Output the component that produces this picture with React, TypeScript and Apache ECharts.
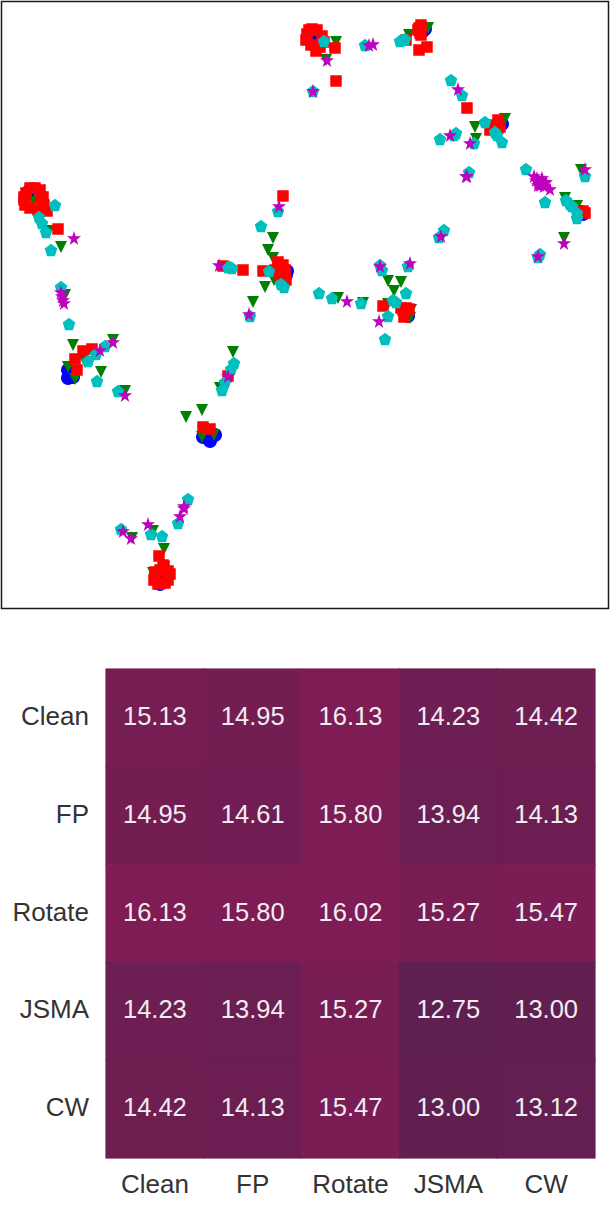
import React, { useEffect, useRef } from "react";
import * as echarts from "echarts";

const blueClean: number[][] = [[29,191],[287,271],[286,275],[283,270],[311,37],[316,40],[425,29],[423,31],[420,30],[502,124],[500,125],[583,214],[581,212],[408,316],[408,314],[406,312],[68,370],[68,378],[70,375],[73,377],[69,371],[203,437],[210,441],[215,435],[207,437],[168,573],[161,583],[160,584]];
const greenFP: number[][] = [[34,202],[39,212],[49,231],[61,247],[65,295],[273,238],[268,250],[273,258],[265,287],[253,302],[274,280],[336,42],[326,60],[409,35],[428,28],[475,127],[505,119],[476,139],[565,198],[577,206],[581,170],[564,238],[388,281],[401,282],[394,291],[411,310],[410,318],[388,304],[338,298],[363,303],[73,345],[68,367],[75,379],[85,362],[113,340],[101,372],[125,391],[233,352],[220,388],[202,410],[186,417],[202,437],[214,435],[153,531],[132,538],[164,549],[153,573]];
const redRotate: number[][] = [[35,188],[30,188],[40,190],[41,197],[43,197],[44,205],[47,211],[38,210],[30,208],[25,205],[24,197],[26,193],[42,205],[24,200],[58,229],[283,196],[223,266],[243,270],[263,271],[283,265],[275,270],[278,262],[285,270],[280,275],[286,280],[278,268],[309,30],[317,30],[322,36],[324,42],[311,45],[306,40],[307,34],[316,51],[320,47],[312,29],[335,48],[336,81],[406,40],[419,28],[421,25],[420,33],[421,35],[418,30],[419,50],[427,47],[467,108],[498,120],[493,125],[500,127],[490,130],[498,128],[583,211],[585,213],[383,306],[401,308],[406,308],[404,317],[409,309],[403,310],[75,359],[83,351],[92,349],[77,370],[228,376],[203,427],[210,429],[159,556],[163,565],[155,572],[168,571],[170,574],[154,580],[168,580],[158,584],[165,583],[160,570],[164,566],[155,573],[155,578]];
const cyanJSMA: number[][] = [[55,205],[39,217],[42,223],[46,232],[51,250],[61,287],[269,271],[281,284],[284,287],[230,267],[228,267],[232,268],[278,211],[261,226],[250,316],[324,41],[313,91],[365,45],[400,41],[405,39],[402,40],[451,80],[462,95],[485,122],[495,132],[497,135],[502,142],[474,143],[440,139],[456,133],[454,135],[469,172],[526,169],[545,202],[566,200],[570,204],[572,206],[577,213],[577,218],[585,176],[540,254],[538,257],[444,230],[439,237],[380,265],[382,270],[408,266],[406,293],[393,300],[396,302],[388,316],[385,339],[319,293],[332,298],[361,303],[69,324],[88,361],[96,354],[105,346],[97,381],[118,391],[234,363],[231,369],[225,382],[222,390],[188,499],[178,523],[151,534],[162,536],[121,529]];
const magentaCW: number[][] = [[74,238],[61,292],[62,296],[63,300],[64,303],[219,265],[279,206],[249,314],[327,60],[313,91],[369,45],[373,44],[458,89],[450,135],[470,143],[467,176],[466,176],[534,176],[536,180],[538,182],[542,178],[540,185],[545,182],[544,186],[550,189],[537,178],[538,185],[542,184],[546,182],[585,169],[564,243],[538,256],[441,236],[380,266],[410,263],[379,321],[347,301],[100,350],[113,342],[125,395],[228,376],[184,506],[184,508],[180,516],[148,524],[123,531],[131,538]];

const labels = ["Clean", "FP", "Rotate", "JSMA", "CW"];
const matrix = [
  [15.13, 14.95, 16.13, 14.23, 14.42],
  [14.95, 14.61, 15.8, 13.94, 14.13],
  [16.13, 15.8, 16.02, 15.27, 15.47],
  [14.23, 13.94, 15.27, 12.75, 13.0],
  [14.42, 14.13, 15.47, 13.0, 13.12],
];

const pentagon = "path://M50 0L100 36.3L80.9 95.1L19.1 95.1L0 36.3Z";
const star = "path://M50 0L61.8 36.3L100 36.3L69.1 58.8L80.9 95.1L50 72.7L19.1 95.1L30.9 58.8L0 36.3L38.2 36.3Z";
const font = "'Liberation Sans', Arial, sans-serif";
const lowColor = "#5f1f50";
const highColor = "#801c55";
const vMin = 12.75;
const vMax = 16.13;

export default function App() {
  const ref = useRef<HTMLDivElement>(null);
  useEffect(() => {
    const chart = echarts.init(ref.current!, undefined, { renderer: "svg" });
    const sc = (name: string, data: number[][], symbol: string, size: number, color: string, rotate = 0) => ({
      name, type: "scatter" as const, xAxisIndex: 0, yAxisIndex: 0, data, symbol, symbolSize: size, symbolRotate: rotate,
      itemStyle: { color, opacity: 1 }, silent: true, clip: false,
    });
    const heat: any[] = [];
    matrix.forEach((row, r) => row.forEach((v, c) => {
      const color = echarts.color.lerp((v - vMin) / (vMax - vMin), [lowColor, highColor]);
      heat.push({ value: [c, r, v], itemStyle: { borderColor: color, borderWidth: 0.6 } });
    }));
    chart.setOption({
      animation: false,
      backgroundColor: "#fff",
      grid: [
        { left: 1.5, top: 1.5, width: 607, height: 607, show: true, borderColor: "#1a1a1a", borderWidth: 1.5, backgroundColor: "#fff" },
        { left: 106, top: 669, width: 489, height: 489 },
      ],
      xAxis: [
        { type: "value", gridIndex: 0, min: 1.5, max: 608.5, show: false },
        { type: "category", gridIndex: 1, data: labels, axisLine: { show: false }, axisTick: { show: false }, splitLine: { show: false },
          axisLabel: { color: "#333", fontSize: 26, fontFamily: font, margin: 13, interval: 0, hideOverlap: false } },
      ],
      yAxis: [
        { type: "value", gridIndex: 0, min: 1.5, max: 608.5, inverse: true, show: false },
        { type: "category", gridIndex: 1, data: labels, inverse: true, axisLine: { show: false }, axisTick: { show: false }, splitLine: { show: false },
          axisLabel: { color: "#333", fontSize: 26, fontFamily: font, margin: 17, interval: 0, verticalAlign: "bottom", lineHeight: 4 } },
      ],
      visualMap: { show: false, seriesIndex: 5, dimension: 2, min: vMin, max: vMax, inRange: { color: [lowColor, highColor] } },
      series: [
        sc("Clean", blueClean, "circle", 14, "#0000ff"),
        sc("FP", greenFP, "triangle", 12, "#007f00", 180),
        sc("Rotate", redRotate, "rect", 11.5, "#ff0000"),
        sc("JSMA", cyanJSMA, pentagon, 12.5, "#00bfbf"),
        sc("CW", magentaCW, star, 14, "#bf00bf"),
        {
          type: "heatmap", xAxisIndex: 1, yAxisIndex: 1, data: heat, silent: true,
          label: { show: true, color: "#f0eef0", fontSize: 25.5, fontFamily: font, offset: [0, -2], formatter: (p: any) => p.value[2].toFixed(2) },
        },
      ],
    });
    return () => chart.dispose();
  }, []);
  return <div ref={ref} style={{ position: "absolute", left: 0, top: 0, width: 610, height: 1221 }} />;
}
